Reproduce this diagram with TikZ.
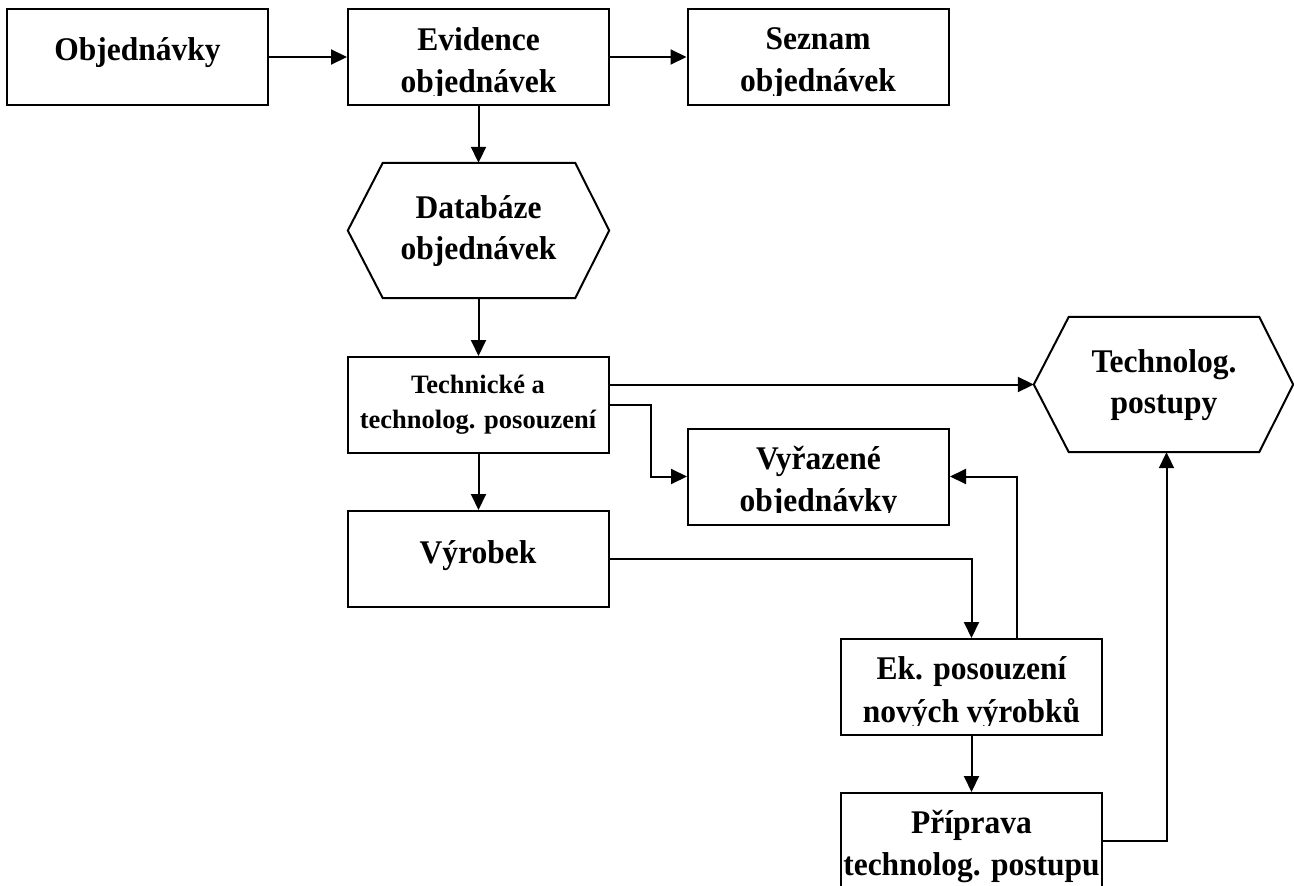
\documentclass[tikz,border=0pt]{standalone}
\usepackage{fontspec}
\setmainfont{Liberation Serif}
\usetikzlibrary{arrows.meta,calc}
\begin{document}
\begin{tikzpicture}[x=1pt,y=-1pt,
  box/.style={draw, line width=2pt, rectangle, minimum width=261pt, minimum height=96pt, inner sep=0pt},
  hexframe/.style={rectangle, minimum width=#1, minimum height=135pt, inner sep=0pt},
  big/.style={font=\fontsize{31.5}{42}\selectfont\bfseries, anchor=base, inner sep=0pt, yscale=1.05},
  small/.style={font=\fontsize{26.5}{34}\selectfont\bfseries, anchor=base, inner sep=0pt},
  conn/.style={line width=2pt, -{Triangle[length=16pt,width=15pt]}},
  plainline/.style={line width=2pt, line join=miter}]
\useasboundingbox (0,0) rectangle (1294,886);

% boxes
\node[box] (obj)  at (137.5,57) {};
\node[box] (evid) at (478.5,57) {};
\node[box] (sez)  at (818,57) {};
\node[hexframe=261pt] (db) at (478.5,230.5) {};
\node[box] (tech) at (478.5,405) {};
\node[hexframe=259pt] (tp) at (1163.5,384.5) {};
\node[box] (vyr)  at (818.5,476.5) {};
\node[box] (vyb)  at (478.5,559) {};
\node[box] (ek)   at (971.5,687) {};
\node[box] (prip) at (971.5,841) {};

% hexagons
\draw[plainline] (db.west) -- ([xshift=35pt]db.north west) -- ([xshift=-34pt]db.north east)
  -- (db.east) -- ([xshift=-34pt]db.south east) -- ([xshift=35pt]db.south west) -- cycle;
\draw[plainline] (tp.west) -- ([xshift=35pt]tp.north west) -- ([xshift=-34pt]tp.north east)
  -- (tp.east) -- ([xshift=-34pt]tp.south east) -- ([xshift=35pt]tp.south west) -- cycle;

% texts
\node[big] (objA) at (137.5,60) {Objednávky};
\begin{scope}
  \clip (evid.north west) rectangle ([yshift=11pt]evid.south east);
  \node[big] (evidA) at (478.5,50) {Evidence};
  \node[big] (evidB) at (478.5,92) {objednávek};
\end{scope}
\begin{scope}
  \clip (sez.north west) rectangle ([yshift=11pt]sez.south east);
  \node[big] (sezA) at (818,49) {Seznam};
  \node[big] (sezB) at (818,91) {objednávek};
\end{scope}
\node[big] (dbA) at (478.5,218) {Databáze};
\node[big] (dbB) at (478.5,259) {objednávek};
\node[small] (techA) at (478,393) {Technické a};
\node[small] (techB) at (478,428) {technolog. posouzení};
\node[big] (tpA) at (1164,372) {Technolog.};
\node[big] (tpB) at (1164,413) {postupy};
\begin{scope}
  \clip (vyr.north west) rectangle ([yshift=13pt]vyr.south east);
  \node[big] (vyrA) at (818.5,469) {Vyřazené};
  \node[big] (vyrB) at (818.5,511) {objednávky};
\end{scope}
\node[big] (vybA) at (478,563) {Výrobek};
\begin{scope}
  \clip (ek.north west) rectangle ([yshift=11pt]ek.south east);
  \node[big] (ekA) at (971.5,679) {Ek. posouzení};
  \node[big] (ekB) at (971.5,722) {nových výrobků};
\end{scope}
\node[big] (pripA) at (971.5,833) {Příprava};
\node[big] (pripB) at (971.5,875) {technolog. postupu};

% connectors
\draw[conn] (obj.east) -- (evid.west);
\draw[conn] (evid.east) -- (sez.west);
\draw[conn] (evid.south) -- (db.north);
\draw[conn] (db.south) -- (tech.north);
\draw[conn] (tp.west -| tech.east) -- (tp.west);
\draw[conn] (tech.east) -- ++(41,0) |- (vyr.west);
\draw[conn] (tech.south) -- (vyb.north);
\draw[conn] (vyb.east) -| (ek.north);
\draw[conn] ([xshift=45.5pt]ek.north) |- (vyr.east);
\draw[conn] (ek.south) -- (prip.north);
\draw[conn] (prip.east) -| ([xshift=3pt]tp.south);
\end{tikzpicture}
\end{document}
